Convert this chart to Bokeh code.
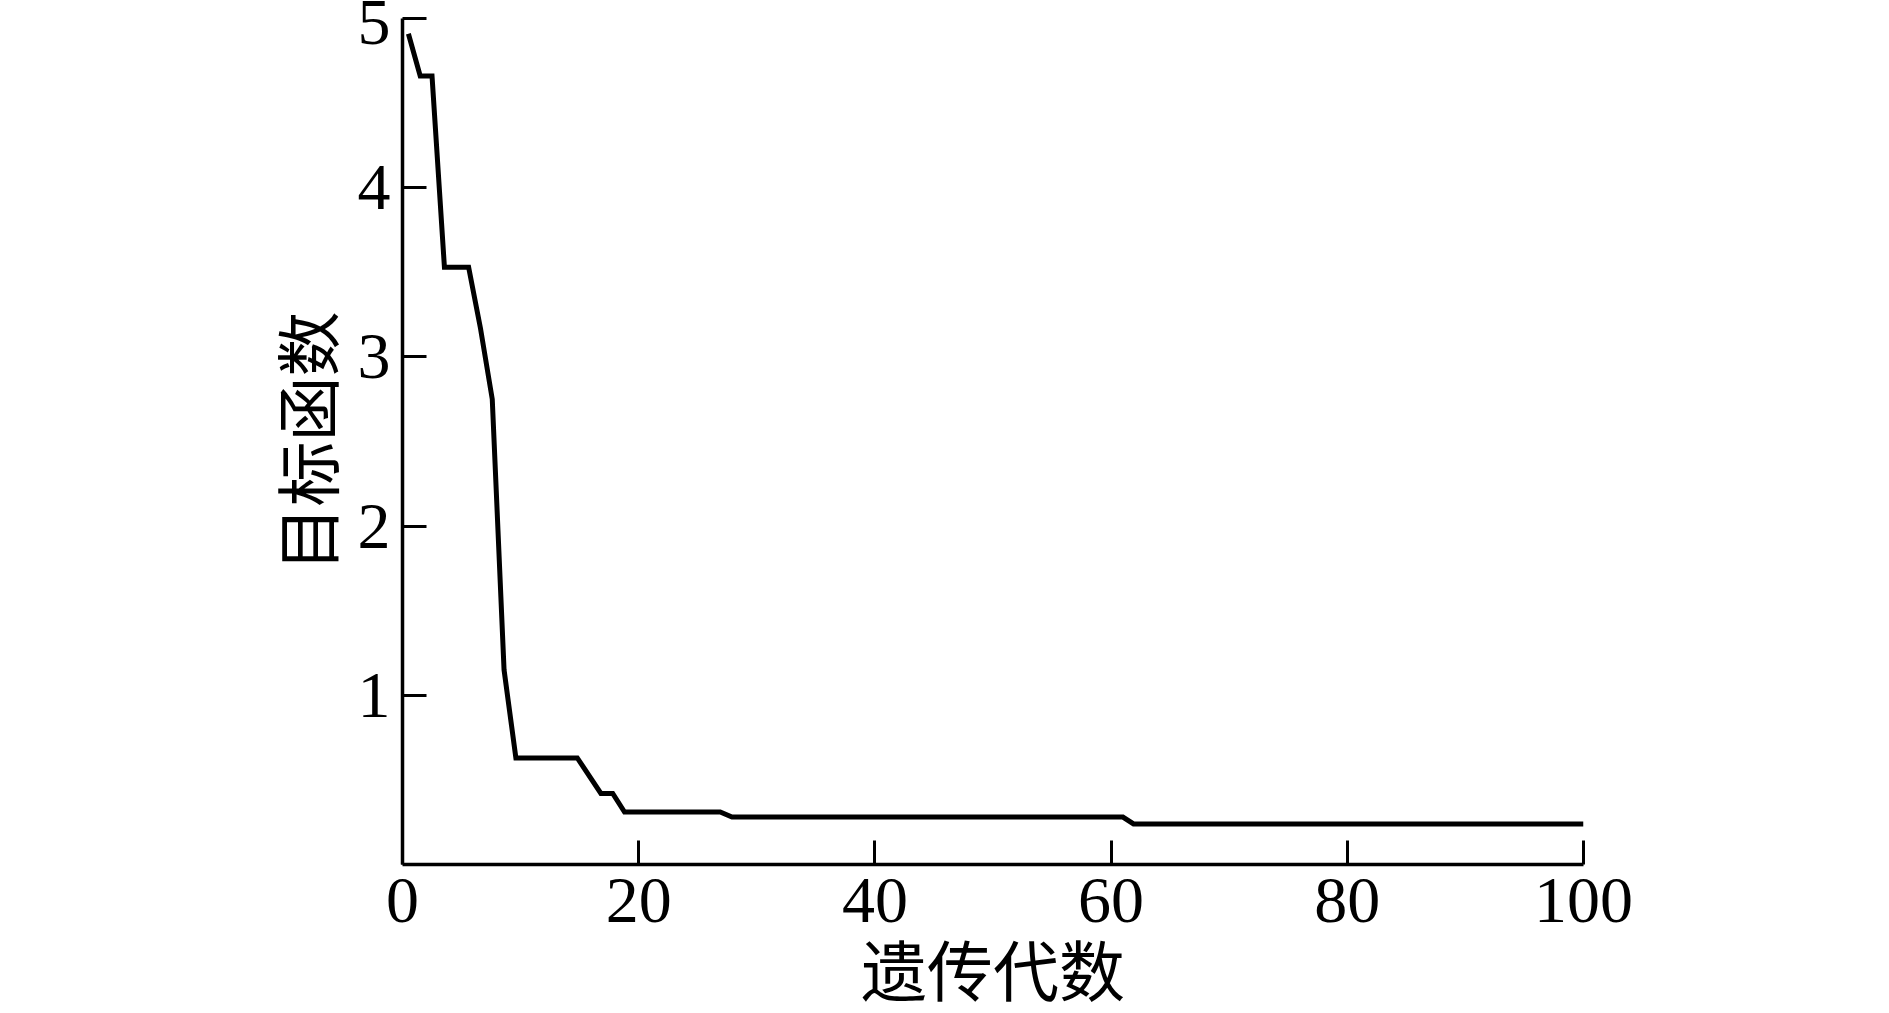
from bokeh.plotting import figure
from bokeh.models import Range1d, FixedTicker
from bokeh.embed import file_html
from bokeh.resources import INLINE

# Data (polyline vertices)
generation = [0.5, 1.5, 2.5, 3.55, 5.6, 6.6, 7.6, 8.6, 9.6, 14.8, 16.8, 17.8, 18.8, 26.9, 27.9, 61.0, 61.9, 100.0]
objective = [4.91, 4.66, 4.66, 3.53, 3.53, 3.17, 2.75, 1.15, 0.63, 0.63, 0.42, 0.42, 0.31, 0.31, 0.28, 0.28, 0.24, 0.24]

x_ticks = [0, 20, 40, 60, 80, 100]
y_ticks = [1, 2, 3, 4, 5]
x_label = "遗传代数"
y_label = "目标函数"

p = figure(width=1873, height=1013, output_backend="svg", toolbar_location=None,
           x_range=Range1d(0, 100), y_range=Range1d(0, 5),
           min_border_left=402, min_border_right=290, min_border_top=18, min_border_bottom=149)

p.line(generation, objective, line_color="black", line_width=5, line_join="miter")

p.grid.visible = False
p.outline_line_color = None
p.background_fill_color = "white"
p.border_fill_color = "white"

p.xaxis.ticker = FixedTicker(ticks=x_ticks)
p.yaxis.ticker = FixedTicker(ticks=y_ticks)
p.xaxis.axis_label = x_label
p.yaxis.axis_label = y_label

for ax in (p.xaxis, p.yaxis):
    ax.axis_line_color = "black"
    ax.axis_line_width = 3.5
    ax.major_tick_line_color = "black"
    ax.major_tick_line_width = 3
    ax.major_tick_in = 24
    ax.major_tick_out = 0
    ax.minor_tick_line_color = None
    ax.major_label_text_font = "Liberation Serif"
    ax.major_label_text_font_size = "66px"
    ax.major_label_text_color = "black"
    ax.axis_label_text_font_style = "normal"
    ax.axis_label_text_color = "black"

p.xaxis.axis_label_text_font = "'Liberation Serif', 'Noto Sans CJK SC'"
p.xaxis.axis_label_text_font_size = "66px"
p.yaxis.axis_label_text_font = "Noto Sans CJK SC"
p.yaxis.axis_label_text_font_size = "65px"

p.xaxis.major_label_standoff = 14
p.yaxis.major_label_standoff = 12
p.xaxis.axis_label_standoff = 12
p.yaxis.axis_label_standoff = 3

open("out.html", "w").write(file_html(p, INLINE))
